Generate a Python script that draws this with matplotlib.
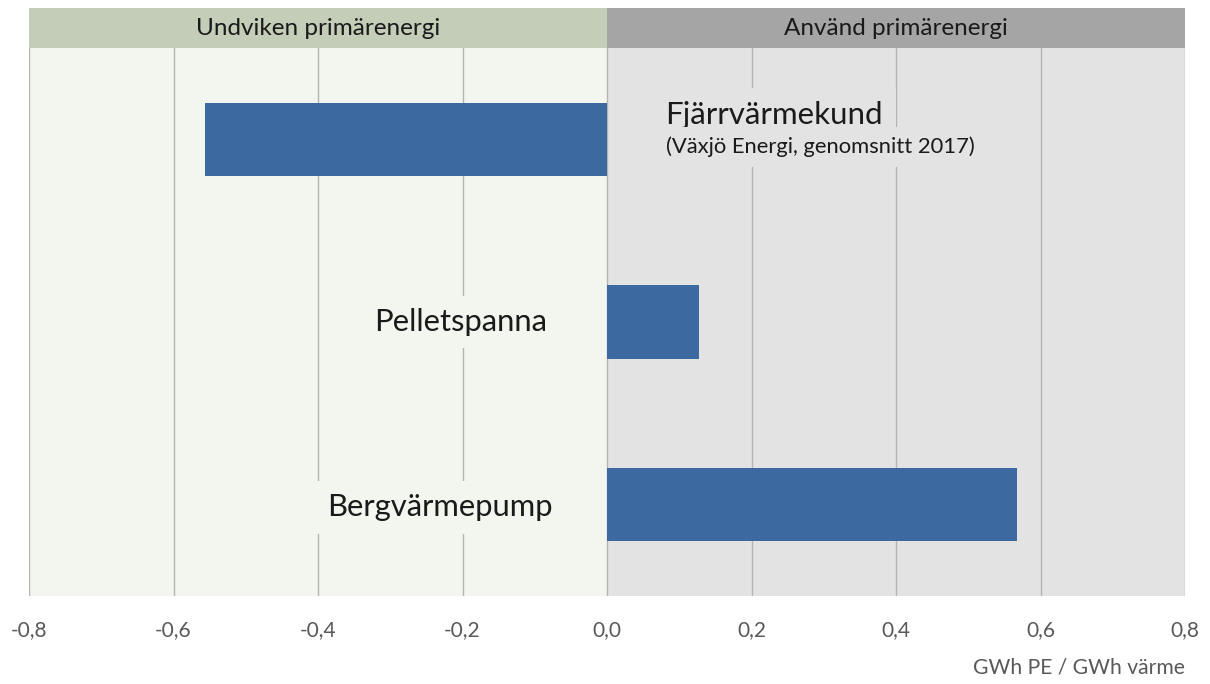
import matplotlib
matplotlib.use("Agg")
import matplotlib.pyplot as plt

plt.rcParams['font.family'] = ['Lato', 'DejaVu Sans']

categories = ["Fjärrvärmekund", "Pelletspanna", "Bergvärmepump"]
values = [-0.557, 0.128, 0.568]
subtitle = "(Växjö Energi, genomsnitt 2017)"
header_left = "Undviken primärenergi"
header_right = "Använd primärenergi"
xticks = [-0.8, -0.6, -0.4, -0.2, 0.0, 0.2, 0.4, 0.6, 0.8]
xlabel = "GWh PE / GWh värme"

BAR = "#3b69a0"
BG_L = "#f3f6ef"
BG_R = "#e3e3e3"
HD_L = "#c4cdb8"
HD_R = "#a5a5a5"
GRID = "#b4b4b4"
TXT = "#1a1a1a"
TICK = "#595959"

W, H = 1210, 684
fig = plt.figure(figsize=(W / 100, H / 100), dpi=100)
L, R = 29 / W, 1185 / W
ax = fig.add_axes([L, 1 - 596 / H, R - L, (596 - 48) / H])
axh = fig.add_axes([L, 1 - 48 / H, R - L, 40 / H])

xmin, xmax = xticks[0], xticks[-1]
for a in (ax, axh):
    a.set_xlim(xmin, xmax)
    for s in a.spines.values():
        s.set_visible(False)

# header
axh.set_ylim(0, 1)
axh.axvspan(xmin, 0, color=HD_L, lw=0)
axh.axvspan(0, xmax, color=HD_R, lw=0)
axh.text((xmin + 0) / 2, 0.48, header_left, ha="center", va="center", fontsize=17.5, color=TXT)
axh.text((0 + xmax) / 2, 0.48, header_right, ha="center", va="center", fontsize=17.5, color=TXT)
axh.set_xticks([])
axh.set_yticks([])

# plot area
ypos = list(range(len(categories)))
ax.set_ylim(len(categories) - 0.5, -0.5)
ax.axvspan(xmin, 0, color=BG_L, lw=0, zorder=0)
ax.axvspan(0, xmax, color=BG_R, lw=0, zorder=0)
for t in xticks:
    ax.axvline(t, color=GRID, lw=1.0, zorder=1)
ax.barh(ypos, values, height=0.4, color=BAR, zorder=3)

# labels
ax.text(0.081, ypos[0] - 0.135, categories[0], ha="left", va="center", fontsize=22.5, color=TXT, zorder=4,
        bbox=dict(facecolor=BG_R, edgecolor="none", pad=9))
ax.text(0.081, ypos[0] + 0.04, subtitle, ha="left", va="center", fontsize=15.8, color=TXT, zorder=5,
        bbox=dict(facecolor=BG_R, edgecolor="none", pad=7))
ax.text(-0.083, ypos[1], categories[1], ha="right", va="center", fontsize=22.3, color=TXT, zorder=4,
        bbox=dict(facecolor=BG_L, edgecolor="none", pad=9))
ax.text(-0.075, ypos[2] + 0.015, categories[2], ha="right", va="center", fontsize=22.3, color=TXT, zorder=4,
        bbox=dict(facecolor=BG_L, edgecolor="none", pad=9))

ax.set_yticks([])
ax.set_xticks(xticks)
ax.set_xticklabels([f"{t:.1f}".replace(".", ",") for t in xticks], fontsize=15, color=TICK)
ax.tick_params(axis="x", length=0, pad=17)
fig.text(R, 1 - 668 / H, xlabel, ha="right", va="center", fontsize=15.2, color=TICK)

fig.savefig("out.png", dpi=100, facecolor="white")
